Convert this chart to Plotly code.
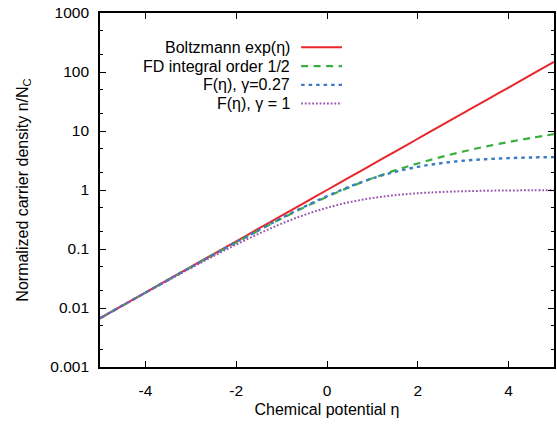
import plotly.graph_objects as go

# Chemical potential (eta)
eta = [-5, -4.5, -4, -3.5, -3, -2.5, -2, -1.5, -1, -0.5, 0,
       0.5, 1, 1.5, 2, 2.5, 3, 3.5, 4, 4.5, 5]

# Normalized carrier density n/Nc
boltzmann = [0.0067, 0.0111, 0.0183, 0.0302, 0.0498, 0.082, 0.135, 0.223, 0.368, 0.607, 1.0,
             1.65, 2.72, 4.48, 7.39, 12.2, 20.1, 33.1, 54.6, 90.0, 148.0]
fd_half = [0.0067, 0.011, 0.0182, 0.0299, 0.0489, 0.080, 0.129, 0.207, 0.328, 0.510, 0.765,
           1.12, 1.58, 2.15, 2.82, 3.60, 4.49, 5.47, 6.51, 7.65, 8.84]
f_g027 = [0.0067, 0.0111, 0.0182, 0.030, 0.0491, 0.0803, 0.131, 0.210, 0.335, 0.521, 0.787,
          1.14, 1.57, 2.03, 2.47, 2.84, 3.13, 3.33, 3.47, 3.56, 3.61]
f_g1 = [0.0067, 0.011, 0.018, 0.0293, 0.0474, 0.0759, 0.119, 0.182, 0.269, 0.378, 0.50,
        0.623, 0.731, 0.818, 0.881, 0.924, 0.953, 0.971, 0.982, 0.989, 0.993]

names = ["Boltzmann exp(η)", "FD integral order 1/2", "F(η), γ=0.27", "F(η), γ = 1"]
series = [boltzmann, fd_half, f_g027, f_g1]
colors = ["#e8262b", "#3aae3f", "#3a7cc4", "#9a55b0"]
dashes = ["solid", "7px,5.5px", "3.5px,4px", "1.8px,1.9px"]
widths = [2, 2.2, 2.4, 2]

y_ticks = [0.001, 0.01, 0.1, 1, 10, 100, 1000]
y_ticklabels = ["0.001", "0.01", "0.1", "1", "10", "100", "1000"]
x_ticks = [-4, -2, 0, 2, 4]
x_ticklabels = ["-4", "-2", "0", "2", "4"]

FONT = "Liberation Sans, Arial, sans-serif"

fig = go.Figure()
for y, c, d, w in zip(series, colors, dashes, widths):
    fig.add_trace(go.Scatter(x=eta, y=y, mode="lines", line=dict(color=c, dash=d, width=w, shape="spline"),
                             showlegend=False, hoverinfo="skip"))

# Custom legend: text on the left, line key on the right
leg_y = [0.903, 0.850, 0.797, 0.744]
for name, c, d, w, yy in zip(names, colors, dashes, widths, leg_y):
    fig.add_annotation(x=0.423, y=yy, xref="paper", yref="paper", text=name, showarrow=False,
                       xanchor="right", yanchor="middle", font=dict(size=16, color="black", family=FONT))
    fig.add_shape(type="line", xref="paper", yref="paper", x0=0.443, x1=0.533, y0=yy, y1=yy,
                  line=dict(color=c, dash=d, width=w))

minor_vals = [m * 10 ** e for e in range(-3, 3) for m in (2, 5)]

fig.update_layout(
    width=557, height=424,
    margin=dict(l=100, r=1, t=13, b=57),
    paper_bgcolor="white", plot_bgcolor="white",
    font=dict(family=FONT, size=16, color="black"),
    xaxis=dict(range=[-5, 5], tickvals=x_ticks, ticktext=x_ticklabels, ticks="inside", ticklen=6,
               tickwidth=1.2, tickcolor="black", showline=True, linecolor="black", linewidth=1.6,
               mirror="ticks", showgrid=False, zeroline=False, tickfont=dict(size=15.5),
               ticklabelstandoff=9,
               title=dict(text="Chemical potential η", font=dict(size=16), standoff=5)),
    yaxis=dict(type="log", range=[-3, 3], tickvals=y_ticks, ticktext=y_ticklabels, ticks="inside",
               ticklen=6, tickwidth=1.2, tickcolor="black", showline=True, linecolor="black",
               linewidth=1.6, mirror="ticks", showgrid=False, zeroline=False, tickfont=dict(size=15.5),
               ticklabelstandoff=6,
               minor=dict(tickvals=minor_vals, ticks="inside", ticklen=3.5, tickwidth=1.2,
                          tickcolor="black", showgrid=False),
               title=dict(text="Normalized carrier density n/N<sub>C</sub>", font=dict(size=16),
                          standoff=18)),
)

fig.write_html("out.html", config={"displayModeBar": False},
               post_script="document.body.style.margin='0';document.body.style.overflow='hidden';")
